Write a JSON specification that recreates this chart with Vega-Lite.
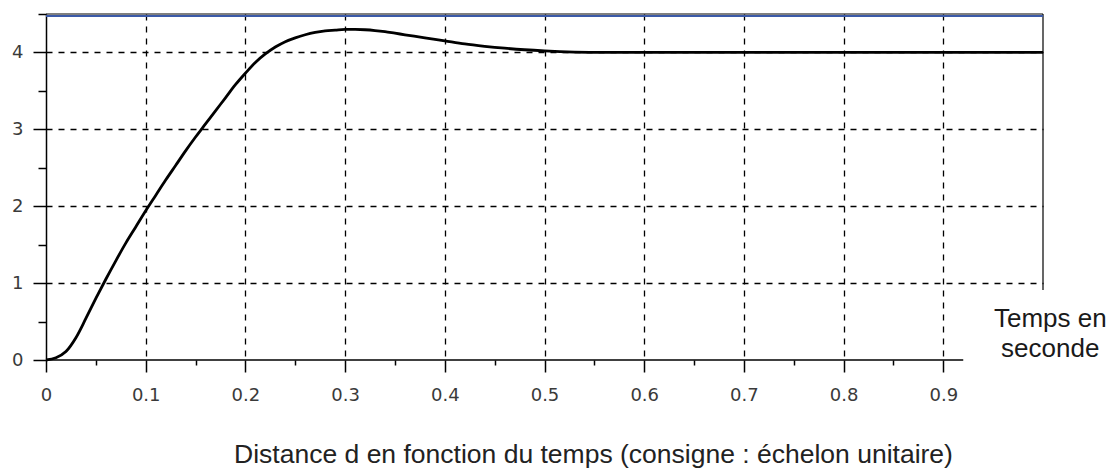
{
  "$schema": "https://vega.github.io/schema/vega-lite/v6.json",
  "width": 997,
  "height": 346,
  "autosize": "none",
  "padding": {"left": 46, "top": 14, "right": 74, "bottom": 109},
  "background": "white",
  "config": {"view": {"stroke": null}},
  "datasets": {
    "curve": [
      {"t": 0, "d": 0}, {"t": 0.01, "d": 0.03}, {"t": 0.02, "d": 0.11}, {"t": 0.03, "d": 0.29},
      {"t": 0.04, "d": 0.54}, {"t": 0.05, "d": 0.8}, {"t": 0.06, "d": 1.05}, {"t": 0.07, "d": 1.29},
      {"t": 0.08, "d": 1.52}, {"t": 0.09, "d": 1.73}, {"t": 0.1, "d": 1.94}, {"t": 0.11, "d": 2.14},
      {"t": 0.12, "d": 2.34}, {"t": 0.13, "d": 2.53}, {"t": 0.14, "d": 2.72}, {"t": 0.15, "d": 2.9},
      {"t": 0.16, "d": 3.07}, {"t": 0.17, "d": 3.24}, {"t": 0.18, "d": 3.41}, {"t": 0.19, "d": 3.58},
      {"t": 0.2, "d": 3.73}, {"t": 0.21, "d": 3.87}, {"t": 0.22, "d": 3.98}, {"t": 0.23, "d": 4.07},
      {"t": 0.24, "d": 4.14}, {"t": 0.25, "d": 4.19}, {"t": 0.26, "d": 4.23}, {"t": 0.27, "d": 4.26},
      {"t": 0.28, "d": 4.28}, {"t": 0.29, "d": 4.29}, {"t": 0.3, "d": 4.3}, {"t": 0.31, "d": 4.3},
      {"t": 0.32, "d": 4.295}, {"t": 0.33, "d": 4.285}, {"t": 0.34, "d": 4.27}, {"t": 0.35, "d": 4.25},
      {"t": 0.36, "d": 4.23}, {"t": 0.38, "d": 4.19}, {"t": 0.4, "d": 4.15}, {"t": 0.42, "d": 4.11},
      {"t": 0.44, "d": 4.08}, {"t": 0.46, "d": 4.055}, {"t": 0.48, "d": 4.035}, {"t": 0.5, "d": 4.02},
      {"t": 0.53, "d": 4.005}, {"t": 0.56, "d": 4.0}, {"t": 1.0, "d": 4.0}
    ],
    "frame": [{"xstart": 0, "ybase": 0, "top": 4.5, "setpoint": 4.475, "xend": 1, "xaxisend": 0.92, "borderstart": 0.91}],
    "note": [{"t": 1.0073, "d": 0.43, "label": ["Temps en", "seconde"]}]
  },
  "resolve": {"axis": {"x": "independent", "y": "independent"}},
  "layer": [
    {
      "data": {"name": "curve"},
      "mark": {"type": "line", "color": "black", "strokeWidth": 2.8, "interpolate": "monotone"},
      "encoding": {
        "x": {
          "field": "t", "type": "quantitative",
          "scale": {"domain": [0, 1], "nice": false, "zero": false},
          "axis": {
            "orient": "bottom",
            "values": [0, 0.1, 0.2, 0.3, 0.4, 0.5, 0.6, 0.7, 0.8, 0.9],
            "format": ".1~f",
            "title": "Distance d en fonction du temps (consigne : échelon unitaire)",
            "titleFont": "Liberation Sans", "titleFontSize": 26.5, "titleFontWeight": "normal", "titleColor": "#222222",
            "titleX": 547, "titleY": 102, "titleAlign": "center", "titleBaseline": "alphabetic", "titleAnchor": "start",
            "labelFont": "DejaVu Sans", "labelFontSize": 18, "labelColor": "#3a3a3a", "labelPadding": 14,
            "labelFlush": false, "labelOverlap": false,
            "domain": false,
            "tickColor": "black", "tickSize": 12, "tickWidth": 1.5,
            "grid": true, "gridColor": "black", "gridDash": [6, 6], "gridWidth": 1.3,
            "gridOpacity": {"condition": {"test": "datum.value > 0.01", "value": 1}, "value": 0}
          }
        },
        "y": {
          "field": "d", "type": "quantitative",
          "scale": {"domain": [0, 4.5], "nice": false},
          "axis": {
            "orient": "left",
            "values": [0, 1, 2, 3, 4],
            "format": "d",
            "title": null,
            "labelFont": "DejaVu Sans", "labelFontSize": 18, "labelColor": "#3a3a3a", "labelPadding": 10,
            "labelFlush": false, "labelOverlap": false,
            "domainColor": "black", "domainWidth": 1.5,
            "tickColor": "black", "tickSize": 13, "tickWidth": 1.5,
            "grid": true, "gridColor": "black", "gridDash": [6, 6], "gridWidth": 1.3,
            "gridOpacity": {"condition": {"test": "datum.value > 0", "value": 1}, "value": 0}
          }
        }
      }
    },
    {
      "data": {"name": "frame"},
      "mark": {"type": "rule", "color": "black", "strokeWidth": 1.5},
      "encoding": {
        "x": {
          "field": "xstart", "type": "quantitative",
          "axis": {
            "orient": "bottom",
            "values": [0.05, 0.15, 0.25, 0.35, 0.45, 0.55, 0.65, 0.75, 0.85],
            "labels": false, "grid": false, "domain": false, "title": null,
            "tickColor": "black", "tickSize": 5, "tickWidth": 1.5
          }
        },
        "x2": {"field": "xaxisend"},
        "y": {
          "field": "ybase", "type": "quantitative",
          "axis": {
            "orient": "left",
            "values": [0.5, 1.5, 2.5, 3.5, 4.5],
            "labels": false, "grid": false, "domain": false, "title": null,
            "tickColor": "black", "tickSize": 8, "tickWidth": 1.5
          }
        }
      }
    },
    {
      "data": {"name": "frame"},
      "mark": {"type": "rule", "color": "black", "strokeWidth": 1.2},
      "encoding": {
        "x": {"field": "xend", "type": "quantitative", "axis": null},
        "y": {"field": "borderstart", "type": "quantitative", "axis": null},
        "y2": {"field": "top"}
      }
    },
    {
      "data": {"name": "frame"},
      "mark": {"type": "rule", "color": "black", "strokeWidth": 1.2},
      "encoding": {"y": {"field": "top", "type": "quantitative", "axis": null}}
    },
    {
      "data": {"name": "frame"},
      "mark": {"type": "rule", "color": "#3b5aa8", "strokeWidth": 2},
      "encoding": {"y": {"field": "setpoint", "type": "quantitative", "axis": null}}
    },
    {
      "data": {"name": "note"},
      "mark": {"type": "text", "font": "Liberation Sans", "fontSize": 26, "color": "#1a1a1a", "align": "center", "baseline": "alphabetic", "lineHeight": 30},
      "encoding": {
        "x": {"field": "t", "type": "quantitative", "axis": null},
        "y": {"field": "d", "type": "quantitative", "axis": null},
        "text": {"field": "label"}
      }
    }
  ]
}
